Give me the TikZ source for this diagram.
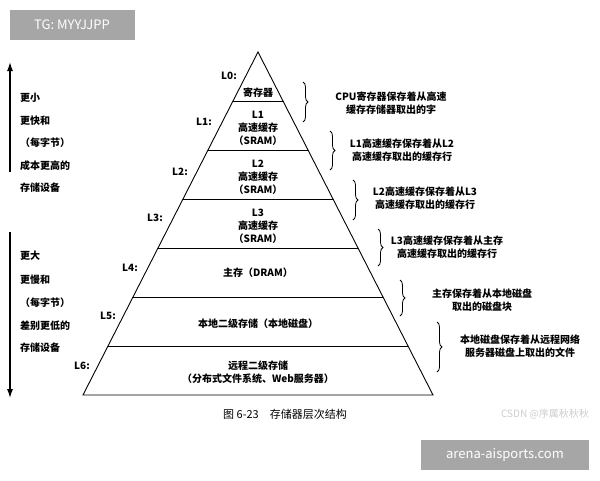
\documentclass[tikz,border=0pt]{standalone}
\usepackage{fontspec}
\setmainfont{Noto Sans CJK SC}
\usetikzlibrary{decorations.pathreplacing,arrows.meta}
\begin{document}
\begin{tikzpicture}[x=1pt,y=-1pt,
  txt/.style={font=\fontsize{10}{13}\selectfont\bfseries,align=center,inner sep=0pt},
  lvl/.style={font=\fontsize{10}{12}\selectfont\bfseries,inner sep=0pt},
  side/.style={font=\fontsize{10}{12}\selectfont\bfseries,anchor=west,inner sep=0pt},
  br/.style={decorate,decoration={brace,amplitude=5pt},line width=0.8pt},
  wm/.style={fill=black!35,text=white,font=\fontsize{13}{15}\selectfont,inner sep=0pt}]
\useasboundingbox (0,0) rectangle (600,480);
% watermark boxes
\node[wm,minimum width=125,minimum height=30] (tg) at (72,25) {TG: MYYJJPP};
\node[wm,minimum width=168,minimum height=30] (ar) at (505,455) {arena-aisports.com};
% pyramid
\coordinate (apex) at (258,52);
\coordinate (bl) at (83,395);
\coordinate (brr) at (433,395);
\draw[line width=0.9pt] (apex) -- (bl) -- (brr) -- cycle;
\foreach \y in {101,150,199,248,297,346}{
  \draw[line width=0.9pt] ({258-0.5102*(\y-52)},\y) -- ({258+0.5102*(\y-52)},\y);
}
\node[txt] (n0) at (258,93) {寄存器};
\node[txt] (n1) at (258,128) {L1\\高速缓存\\（SRAM）};
\node[txt] (n2) at (258,177) {L2\\高速缓存\\（SRAM）};
\node[txt] (n3) at (258,226) {L3\\高速缓存\\（SRAM）};
\node[txt] (n4) at (258,273) {主存（DRAM）};
\node[txt] (n5) at (258,324) {本地二级存储（本地磁盘）};
\node[txt] (n6) at (258,372) {远程二级存储\\（分布式文件系统、Web服务器）};
% level labels
\node[lvl] (l0) at (229,76) {L0:};
\node[lvl] (l1) at (204,122) {L1:};
\node[lvl] (l2) at (180,172) {L2:};
\node[lvl] (l3) at (155,218) {L3:};
\node[lvl] (l4) at (130,268) {L4:};
\node[lvl] (l5) at (108,316) {L5:};
\node[lvl] (l6) at (82,366) {L6:};
% braces
\coordinate (b1a) at (303,82); \coordinate (b1b) at (303,122);
\coordinate (b2a) at (330,131); \coordinate (b2b) at (330,170);
\coordinate (b3a) at (353,180); \coordinate (b3b) at (353,220);
\coordinate (b4a) at (378,229); \coordinate (b4b) at (378,266);
\coordinate (b5a) at (400,280); \coordinate (b5b) at (400,316);
\coordinate (b6a) at (437,322); \coordinate (b6b) at (437,372);
\foreach \i in {1,...,6}{\draw[br] (b\i a) -- (b\i b);}
\node[txt] (d1) at (391,103) {CPU寄存器保存着从高速\\缓存存储器取出的字};
\node[txt] (d2) at (402,150) {L1高速缓存保存着从L2\\高速缓存取出的缓存行};
\node[txt] (d3) at (425,198) {L2高速缓存保存着从L3\\高速缓存取出的缓存行};
\node[txt] (d4) at (447,247) {L3高速缓存保存着从主存\\高速缓存取出的缓存行};
\node[txt] (d5) at (482,300) {主存保存着从本地磁盘\\取出的磁盘块};
\node[txt] (d6) at (520,346) {本地磁盘保存着从远程网络\\服务器磁盘上取出的文件};
% left arrows
\coordinate (ua) at (10,172); \coordinate (ub) at (10,62);
\coordinate (da) at (10,232); \coordinate (db) at (10,398);
\draw[line width=1.2pt,-{Latex[length=9pt,width=6pt]}] (ua) -- (ub);
\draw[line width=1.2pt,-{Latex[length=9pt,width=6pt]}] (da) -- (db);
\node[side] (s1) at (20,98) {更小};
\node[side] (s2) at (20,121) {更快和};
\node[side] (s3) at (20,143) {（每字节）};
\node[side] (s4) at (20,166) {成本更高的};
\node[side] (s5) at (20,188) {存储设备};
\node[side] (t1) at (20,256) {更大};
\node[side] (t2) at (20,280) {更慢和};
\node[side] (t3) at (20,303) {（每字节）};
\node[side] (t4) at (20,326) {差别更低的};
\node[side] (t5) at (20,348) {存储设备};
% caption
\node[txt,font=\fontsize{11}{13}\selectfont] (cap) at (285,414) {图 6-23\quad 存储器层次结构};
\node[txt,font=\fontsize{10}{12}\selectfont,text=black!20] (csdn) at (545,414) {CSDN @序属秋秋秋};
\end{tikzpicture}
\end{document}
